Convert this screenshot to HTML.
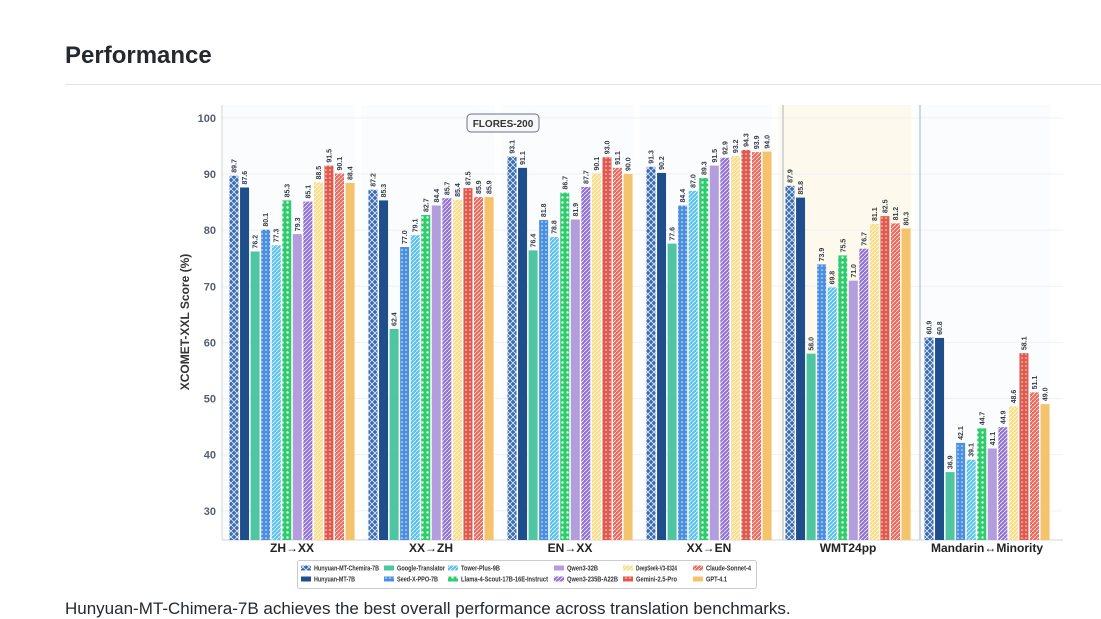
<!DOCTYPE html>
<html><head><meta charset="utf-8">
<style>
html,body{margin:0;padding:0;background:#fff;width:1101px;height:607px;overflow:hidden;font-family:"Liberation Sans","DejaVu Sans",sans-serif;}
#title{position:absolute;left:65px;top:42px;font-size:24px;font-weight:bold;color:#24292f;margin:0;}
#rule{position:absolute;left:65px;top:84px;width:1036px;height:1px;background:#e1e4e8;}
#foot{position:absolute;left:65px;top:599px;font-size:17px;line-height:20px;color:#24292f;white-space:nowrap;}
svg{position:absolute;left:0;top:0;}
</style></head>
<body>
<h1 id="title">Performance</h1>
<div id="rule"></div>
<div id="foot">Hunyuan-MT-Chimera-7B achieves the best overall performance across translation benchmarks.</div>
<svg id="chart" width="1101" height="607">
<defs>
<pattern id="p-cross" width="6" height="6" patternUnits="userSpaceOnUse"><rect width="6" height="6" fill="#3a6cb0"/><path d="M0,0L6,6M6,0L0,6" stroke="#dfe9f7" stroke-width="0.8"/></pattern>
<pattern id="p-dots-blue" width="4" height="4" patternUnits="userSpaceOnUse"><rect width="4" height="4" fill="#4a8fe0"/><circle cx="2" cy="2" r="0.8" fill="#e6f0fc"/></pattern>
<pattern id="p-diag-sky" width="4" height="4" patternUnits="userSpaceOnUse"><rect width="4" height="4" fill="#5bc1ee"/><path d="M0,4L4,0" stroke="#e8f6fd" stroke-width="0.8"/></pattern>
<pattern id="p-green" width="5" height="5" patternUnits="userSpaceOnUse"><rect width="5" height="5" fill="#2fcc6e"/><circle cx="2.5" cy="2.5" r="1.2" fill="#e8faef"/></pattern>
<pattern id="p-diag-purple" width="4" height="4" patternUnits="userSpaceOnUse"><rect width="4" height="4" fill="#9273d4"/><path d="M0,4L4,0" stroke="#efe9fb" stroke-width="0.8"/></pattern>
<pattern id="p-diag-yellow" width="4" height="4" patternUnits="userSpaceOnUse"><rect width="4" height="4" fill="#f8dd8a"/><path d="M0,4L4,0" stroke="#fff8e3" stroke-width="0.8"/></pattern>
<pattern id="p-dots-red" width="4" height="4" patternUnits="userSpaceOnUse"><rect width="4" height="4" fill="#e05a4e"/><circle cx="2" cy="2" r="0.8" fill="#fbe3e0"/></pattern>
<pattern id="p-diag-red" width="4" height="4" patternUnits="userSpaceOnUse"><rect width="4" height="4" fill="#ec6a5d"/><path d="M0,4L4,0" stroke="#fde6e3" stroke-width="0.8"/></pattern>
</defs>
</svg>
<script>
const categories = ["ZH→XX","XX→ZH","EN→XX","XX→EN","WMT24pp","Mandarin↔Minority"];
const models = ["Hunyuan-MT-Chemira-7B","Hunyuan-MT-7B","Google-Translator","Seed-X-PPO-7B","Tower-Plus-9B","Llama-4-Scout-17B-16E-Instruct","Qwen3-32B","Qwen3-235B-A22B","DeepSeek-V3-0324","Gemini-2.5-Pro","Claude-Sonnet-4","GPT-4.1"];
const sChemira = [89.7,87.2,93.1,91.3,87.9,60.9];
const sMT7B    = [87.6,85.3,91.1,90.2,85.8,60.8];
const sGoogle  = [76.2,62.4,76.4,77.6,58.0,36.9];
const sSeedX   = [80.1,77.0,81.8,84.4,73.9,42.1];
const sTower   = [77.3,79.1,78.8,87.0,69.8,39.1];
const sLlama   = [85.3,82.7,86.7,89.3,75.5,44.7];
const sQwen32  = [79.3,84.4,81.9,91.5,71.0,41.1];
const sQwen235 = [85.1,85.7,87.7,92.9,76.7,44.9];
const sDeepSeek= [88.5,85.4,90.1,93.2,81.1,48.6];
const sGemini  = [91.5,87.5,93.0,94.3,82.5,58.1];
const sClaude  = [90.1,85.9,91.1,93.9,81.2,51.1];
const sGPT     = [88.4,85.9,90.0,94.0,80.3,49.0];
const yTicks = [30,40,50,60,70,80,90,100];

const series=[sChemira,sMT7B,sGoogle,sSeedX,sTower,sLlama,sQwen32,sQwen235,sDeepSeek,sGemini,sClaude,sGPT];
const fills=["url(#p-cross)","#1f4e8d","#4fc6a2","url(#p-dots-blue)","url(#p-diag-sky)","url(#p-green)","#b49ddc","url(#p-diag-purple)","url(#p-diag-yellow)","url(#p-dots-red)","url(#p-diag-red)","#f5c36c"];
const legendW=[65,41,48,41,39,87,31,51,41,41,45,21];
const NS="http://www.w3.org/2000/svg";
const svg=document.getElementById('chart');
const plotL=222, plotR=1063, plotT=105, plotB=540;
const yMin=24.8, yMax=102.3;
function y(v){return plotB-(v-yMin)/(yMax-yMin)*(plotB-plotT);}
const groupStart=229.5, groupStep=139, barStep=10.55, barW=9;
function gx(i){return groupStart+i*groupStep;}
function mk(tag,attrs,parent){const e=document.createElementNS(NS,tag);for(const k in attrs)e.setAttribute(k,attrs[k]);(parent||svg).appendChild(e);return e;}

categories.forEach((c,i)=>{
  const r=mk('rect',{x:gx(i)-7,y:plotT,width:133,height:plotB-plotT,fill:i===4?'#fdf9ec':'#fbfcfe'});
  
  
});
yTicks.forEach(t=>{
  const l=mk('line',{x1:plotL,x2:plotR,y1:y(t),y2:y(t),stroke:'#eef0f3','stroke-width':1});
  
  
  const tx=mk('text',{x:216,y:y(t)+4,'text-anchor':'end','font-size':11,'font-weight':'bold',fill:'#555e6e'});
  tx.textContent=t;
  
  
});
[783,920].forEach(sx=>{
  const l=mk('line',{x1:sx,x2:sx,y1:plotT,y2:plotB,stroke:'#c5cad3','stroke-width':1.5});
  
  
});
const ax=mk('line',{x1:plotL,x2:plotL,y1:plotT,y2:plotB,stroke:'#d0d4da','stroke-width':1});


const bx=mk('line',{x1:plotL,x2:plotR,y1:plotB,y2:plotB,stroke:'#d0d4da','stroke-width':1});


series.forEach((s,m)=>{
  s.forEach((v,i)=>{
    const x=gx(i)+m*barStep;
    const top=y(v);
    const r=mk('rect',{x:x,y:top,width:barW,height:plotB-top,fill:fills[m]});
    
    
    const t=mk('text',{x:0,y:0,'font-size':7,'font-weight':'bold',fill:'#333a45',transform:`translate(${x+barW/2+2.5},${top-3}) rotate(-90)`});
    t.textContent=v.toFixed(1);
    
    
  });
});
categories.forEach((c,i)=>{
  const t=mk('text',{x:gx(i)+5.5*barStep+barW/2,y:552,'text-anchor':'middle','font-size':12,'font-weight':'bold',fill:'#222'});
  t.textContent=c;
  
  
});
const yt=mk('text',{x:0,y:0,'text-anchor':'middle','font-size':12,'font-weight':'bold',fill:'#333',transform:'translate(189,322) rotate(-90)'});
yt.textContent='XCOMET-XXL Score (%)';


const fb=mk('rect',{x:467,y:114,width:72,height:18,rx:4,fill:'#f7f8fa',stroke:'#6b7280','stroke-width':1});


const ft=mk('text',{x:503,y:127,'text-anchor':'middle','font-size':10,'font-weight':'bold',fill:'#333'});
ft.textContent='FLORES-200';


const lb=mk('rect',{x:297.5,y:560.5,width:459,height:28,fill:'#fff',stroke:'#c8ccd2','stroke-width':1,rx:2});


const colX=[301,384,448,554,623,693];
models.forEach((m,k)=>{
  const col=Math.floor(k/2), row=k%2;
  const sy=row?579:568;
  const sw=mk('rect',{x:colX[col],y:sy-2.5,width:10,height:5,fill:fills[k]});
  
  
  const t=mk('text',{x:colX[col]+13,y:sy+2.5,'font-size':7.5,'font-weight':'bold',fill:'#333',textLength:legendW[k],lengthAdjust:'spacingAndGlyphs'});
  t.textContent=m;
  
  
});
</script>
</body></html>
